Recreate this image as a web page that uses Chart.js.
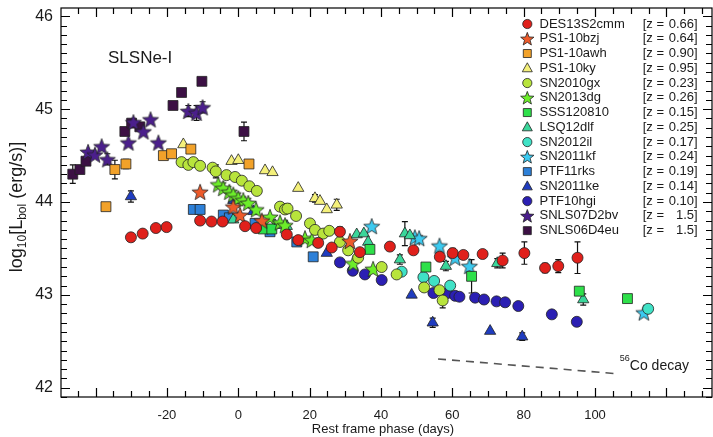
<!DOCTYPE html>
<html>
<head>
<meta charset="utf-8">
<script src="https://cdn.jsdelivr.net/npm/chart.js@4.4.1/dist/chart.umd.min.js"></script>
<style>
body { margin: 0; background: #fff; }
#wrap { width: 713px; height: 437px; }
</style>
</head>
<body>
<div id="wrap"><canvas id="lcChart" width="713" height="437"></canvas></div>
<script>
// each point: [rest frame phase (days), log10 L_bol, optional error]
const DES13S2cmm = [[-30.1,43.62],[-26.8,43.66],[-23.1,43.72],[-20.1,43.73],[-10.7,43.80],[-7.5,43.79],[-4.4,43.79],[1.9,43.74],[5.0,43.72],[13.6,43.65],[16.8,43.59],[22.4,43.56],[26.2,43.51],[28.5,43.68,0.05],[34.1,43.46],[42.5,43.52],[49.1,43.48],[56.5,43.41,0.04],[60.1,43.45,0.05],[63.1,43.43],[68.5,43.44,0.03],[74.1,43.37,0.08],[80.2,43.45,0.12],[86.0,43.29,0.05],[89.7,43.31,0.07],[95.1,43.40,0.17]];
const PS1_10bzj = [[-10.7,44.11],[-1.4,43.95],[0.5,43.86],[6.6,43.80],[31.3,43.58]];
const PS1_10awh = [[-37.1,43.95],[-34.6,44.35,0.1],[-31.5,44.41,0.05],[-21.0,44.50],[-18.7,44.52],[-13.3,44.57],[3.0,44.41]];
const PS1_10ky = [[-15.4,44.62],[-1.9,44.44],[0.0,44.45],[7.5,44.34],[9.6,44.32],[16.8,44.15],[21.5,44.04,0.04],[22.9,44.01],[24.8,43.92],[27.6,43.97,0.06]];
const SN2010gx = [[-15.9,44.43],[-14.0,44.40],[-12.6,44.43],[-10.7,44.39],[-7.2,44.37],[-6.3,44.33,0.07],[-3.3,44.29],[-0.9,44.27],[1.0,44.23],[3.1,44.17],[5.2,44.12],[11.7,43.95],[13.1,43.92],[13.8,43.93,0.05],[16.2,43.85],[20.1,43.77],[21.5,43.70],[23.8,43.66],[25.5,43.69],[28.5,43.57],[30.8,43.48],[33.6,43.40],[40.2,43.30],[44.4,43.22],[52.1,43.08],[56.4,43.05],[57.3,42.94,0.08]];
const SN2013dg = [[-5.6,44.19],[-4.2,44.15],[-2.5,44.11],[-1.4,44.08],[0.0,44.04],[1.4,44.02],[2.8,43.99],[5.0,43.92],[8.9,43.84],[11.7,43.78],[13.1,43.75],[18.7,43.61],[20.6,43.59],[32.2,43.34],[37.8,43.28]];
const SSS120810 = [[7.0,43.71],[9.4,43.71],[36.9,43.49],[52.6,43.30],[65.4,43.20,0.18],[95.6,43.04,0.03],[109.1,42.96,0.03]];
const LSQ12dlf = [[-1.4,43.81],[10.3,43.75],[13.6,43.74],[33.2,43.65],[35.2,43.66],[36.4,43.57],[45.3,43.38,0.05],[46.7,43.66,0.13],[48.1,43.64],[58.2,43.31,0.05],[72.6,43.34,0.05],[96.7,42.95,0.06]];
const SN2012il = [[45.8,43.25],[51.9,43.19],[54.9,43.15],[59.4,43.10],[114.9,42.85]];
const SN2011kf = [[37.4,43.74],[49.5,43.62],[50.7,43.61],[56.4,43.53],[60.8,43.40],[64.8,43.31],[113.7,42.81]];
const PTF11rks = [[-12.6,43.92],[-10.7,43.92],[-4.2,43.86],[-2.5,43.83],[4.7,43.77],[8.9,43.68],[16.4,43.57],[21.0,43.41]];
const SN2011ke = [[-30.1,44.06,0.06],[-1.4,44.02],[4.2,43.90],[24.8,43.45],[48.6,43.00],[54.5,42.70,0.05],[70.6,42.61],[79.6,42.55,0.04]];
const PTF10hgi = [[28.5,43.35],[32.1,43.26],[35.5,43.22],[40.2,43.16],[54.7,43.02],[58.6,43.02],[60.8,42.99],[62.0,42.98],[66.4,42.97],[68.9,42.95],[72.4,42.93],[74.8,42.92],[78.5,42.88],[87.9,42.79],[94.9,42.71]];
const SNLS07D2bv = [[-42.1,44.54],[-40.2,44.51],[-38.3,44.60],[-36.7,44.46,0.06],[-30.8,44.64],[-29.4,44.86],[-26.6,44.76],[-24.6,44.89],[-22.4,44.64],[-14.0,44.98,0.06],[-11.7,44.96,0.08],[-10.0,45.02,0.06]];
const SNLS06D4eu = [[-46.4,44.30,0.1],[-44.4,44.35],[-42.7,44.44],[-31.8,44.76],[-29.9,44.85],[-27.6,44.81],[-18.3,45.04],[-15.9,45.18],[-10.2,45.30],[1.6,44.76,0.1]];

const seriesData = [DES13S2cmm, PS1_10bzj, PS1_10awh, PS1_10ky, SN2010gx, SN2013dg, SSS120810, LSQ12dlf,
                    SN2012il, SN2011kf, PTF11rks, SN2011ke, PTF10hgi, SNLS07D2bv, SNLS06D4eu];
const seriesNames = ['DES13S2cmm', 'PS1-10bzj', 'PS1-10awh', 'PS1-10ky', 'SN2010gx', 'SN2013dg', 'SSS120810', 'LSQ12dlf',
                     'SN2012il', 'SN2011kf', 'PTF11rks', 'SN2011ke', 'PTF10hgi', 'SNLS07D2bv', 'SNLS06D4eu'];
const seriesZ = ['0.66', '0.64', '0.90', '0.95', '0.23', '0.26', '0.15', '0.25', '0.17', '0.24', '0.19', '0.14', '0.10', '1.5', '1.5'];
const seriesColors = ['#e0201b', '#ee5a2a', '#f2a22a', '#f4f07a', '#b8e43c', '#6cee2a', '#2ee04a', '#3ad69a',
                      '#40e2c6', '#3ccaf0', '#2d80d8', '#1f3cc0', '#2b1fb3', '#4b1f8c', '#3c1044'];
const seriesShapes = ['circle', 'star', 'rect', 'triangle', 'circle', 'star', 'rect', 'triangle',
                      'circle', 'star', 'rect', 'triangle', 'circle', 'star', 'rect'];

const xLabelTicks = [-20, 0, 20, 40, 60, 80, 100];
const yLabelTicks = [42, 43, 44, 45, 46];
const coDecay = [[56.0, 42.31], [106.4, 42.15]];

const FONT = "'Liberation Sans', Arial, Helvetica, sans-serif";

function starPath(ctx, cx, cy, R) {
    const r = R * 0.42;
    ctx.beginPath();
    for (let i = 0; i < 10; i++) {
        const rad = i % 2 === 0 ? R : r;
        const a = -Math.PI / 2 + i * Math.PI / 5;
        const px = cx + rad * Math.cos(a), py = cy + rad * Math.sin(a);
        if (i === 0) ctx.moveTo(px, py); else ctx.lineTo(px, py);
    }
    ctx.closePath();
}

function makeStar(color, R) {
    const c = document.createElement('canvas');
    const s = Math.ceil(R * 2 + 3);
    c.width = s;
    c.height = s;
    const g = c.getContext('2d');
    starPath(g, s / 2, s / 2 + R * 0.1, R);
    g.fillStyle = color;
    g.fill();
    g.lineWidth = 0.8;
    g.strokeStyle = '#222';
    g.stroke();
    return c;
}

function markerRadius(shape) {
    if (shape === 'rect') return 7;
    if (shape === 'triangle') return 6.5;
    return 5.5;
}

// small legend marker
function drawMarker(ctx, shape, color, x, y) {
    ctx.fillStyle = color;
    ctx.strokeStyle = '#222';
    ctx.lineWidth = 0.8;
    ctx.beginPath();
    if (shape === 'circle') {
        ctx.arc(x, y, 4.6, 0, Math.PI * 2);
    } else if (shape === 'rect') {
        ctx.rect(x - 4, y - 4, 8, 8);
    } else if (shape === 'triangle') {
        ctx.moveTo(x, y - 5.5);
        ctx.lineTo(x + 5, y + 3.5);
        ctx.lineTo(x - 5, y + 3.5);
        ctx.closePath();
    } else {
        starPath(ctx, x, y + 0.6, 7);
    }
    ctx.fill();
    ctx.stroke();
}

const datasets = seriesData.map((pts, i) => ({
    label: seriesNames[i],
    data: pts.map(p => ({ x: p[0], y: p[1], err: p[2] })),
    pointStyle: seriesShapes[i] === 'star' ? makeStar(seriesColors[i], 8.5) : seriesShapes[i],
    pointRadius: markerRadius(seriesShapes[i]),
    backgroundColor: seriesColors[i],
    borderColor: '#222',
    borderWidth: 0.8,
    showLine: false
}));

datasets.push({
    label: 'Co decay',
    data: coDecay.map(p => ({ x: p[0], y: p[1] })),
    showLine: true,
    borderColor: '#555',
    borderWidth: 1.6,
    borderDash: [8, 6],
    pointRadius: 0
});

const decorPlugin = {
    id: 'decor',
    beforeDatasetsDraw(chart) {
        // error bars under the markers
        const ctx = chart.ctx, xs = chart.scales.x, ys = chart.scales.y;
        ctx.save();
        ctx.strokeStyle = '#111';
        ctx.lineWidth = 1.2;
        chart.data.datasets.forEach(ds => {
            ds.data.forEach(p => {
                if (!p.err) return;
                const px = xs.getPixelForValue(p.x);
                const y1 = ys.getPixelForValue(p.y + p.err);
                const y2 = ys.getPixelForValue(p.y - p.err);
                ctx.beginPath();
                ctx.moveTo(px, y1); ctx.lineTo(px, y2);
                ctx.moveTo(px - 3, y1); ctx.lineTo(px + 3, y1);
                ctx.moveTo(px - 3, y2); ctx.lineTo(px + 3, y2);
                ctx.stroke();
            });
        });
        ctx.restore();
    },
    afterDraw(chart) {
        const ctx = chart.ctx, xs = chart.scales.x, ys = chart.scales.y, a = chart.chartArea;
        ctx.save();

        // frame and inward ticks
        ctx.strokeStyle = '#000';
        ctx.lineWidth = 1.2;
        ctx.strokeRect(a.left, a.top, a.right - a.left, a.bottom - a.top);
        ctx.beginPath();
        for (let v = Math.ceil(xs.min / 5) * 5; v <= xs.max; v += 5) {
            const px = Math.round(xs.getPixelForValue(v)) + 0.5;
            const len = v % 20 === 0 ? 9 : 6;
            ctx.moveTo(px, a.bottom); ctx.lineTo(px, a.bottom - len);
            ctx.moveTo(px, a.top); ctx.lineTo(px, a.top + len);
        }
        for (let k = Math.ceil(ys.min * 10); k <= Math.floor(ys.max * 10); k++) {
            const py = Math.round(ys.getPixelForValue(k / 10)) + 0.5;
            const len = k % 10 === 0 ? 9 : 6;
            ctx.moveTo(a.left, py); ctx.lineTo(a.left + len, py);
            ctx.moveTo(a.right, py); ctx.lineTo(a.right - len, py);
        }
        ctx.stroke();

        ctx.fillStyle = '#1a1a1a';

        // panel label
        ctx.font = '17px ' + FONT;
        ctx.textAlign = 'left';
        ctx.textBaseline = 'middle';
        ctx.fillText('SLSNe-I', 108, 58);

        // x axis title
        ctx.font = '13px ' + FONT;
        ctx.textAlign = 'center';
        ctx.fillText('Rest frame phase (days)', 383, 429);

        // y axis title with subscripts
        ctx.save();
        ctx.translate(16, 207);
        ctx.rotate(-Math.PI / 2);
        ctx.textAlign = 'left';
        ctx.textBaseline = 'alphabetic';
        const parts = [['log', 18, 0], ['10', 12, 4], ['[L', 18, 0], ['bol', 12, 4], [' (erg/s)]', 18, 0]];
        let total = 0;
        parts.forEach(p => { ctx.font = p[1] + 'px ' + FONT; total += ctx.measureText(p[0]).width; });
        let cx = -total / 2;
        parts.forEach(p => {
            ctx.font = p[1] + 'px ' + FONT;
            ctx.fillText(p[0], cx, 6 + p[2]);
            cx += ctx.measureText(p[0]).width;
        });
        ctx.restore();

        // 56Co decay label, next to the end of the dashed line
        const lx = xs.getPixelForValue(coDecay[1][0]) + 2;
        const ly = ys.getPixelForValue(coDecay[1][1]) - 8;
        ctx.textAlign = 'left';
        ctx.textBaseline = 'middle';
        ctx.font = '9px ' + FONT;
        ctx.fillText('56', lx, ly - 7);
        ctx.font = '14px ' + FONT;
        ctx.fillText('Co decay', lx + 10, ly);

        // legend
        const rowH = 14.76;
        for (let i = 0; i < seriesNames.length; i++) {
            const y = 24 + i * rowH;
            drawMarker(ctx, seriesShapes[i], seriesColors[i], 527.3, y);
            ctx.fillStyle = '#1a1a1a';
            ctx.font = '13px ' + FONT;
            ctx.textAlign = 'left';
            ctx.fillText(seriesNames[i], 539.5, y);
            ctx.fillText('[z = ', 642.7, y);
            ctx.textAlign = 'right';
            ctx.fillText(seriesZ[i], 694, y);
            ctx.textAlign = 'left';
            ctx.fillText(']', 694, y);
        }
        ctx.restore();
    }
};

const ctx = document.getElementById('lcChart').getContext('2d');
const lcChart = new Chart(ctx, {
    type: 'scatter',
    data: { datasets: datasets },
    plugins: [decorPlugin],
    options: {
        responsive: false,
        animation: false,
        layout: { autoPadding: false, padding: { top: 8, right: 1, left: 0, bottom: 0 } },
        plugins: {
            legend: { display: false },
            tooltip: { enabled: false }
        },
        scales: {
            x: {
                type: 'linear',
                min: -49.7,
                max: 132.8,
                afterBuildTicks: s => { s.ticks = xLabelTicks.map(v => ({ value: v })); },
                afterFit: s => { s.height = 40; s.paddingLeft = 0; s.paddingRight = 0; },
                grid: { display: false, drawTicks: false },
                border: { display: false },
                ticks: { font: { size: 13, family: FONT }, color: '#1a1a1a', padding: 11, maxRotation: 0, autoSkip: false }
            },
            y: {
                type: 'linear',
                min: 41.9,
                max: 46.09,
                afterBuildTicks: s => { s.ticks = yLabelTicks.map(v => ({ value: v })); },
                afterFit: s => { s.width = 61; s.paddingTop = 0; s.paddingBottom = 0; },
                grid: { display: false, drawTicks: false },
                border: { display: false },
                ticks: { font: { size: 16, family: FONT }, color: '#1a1a1a', padding: 8 }
            }
        }
    }
});
</script>
</body>
</html>
